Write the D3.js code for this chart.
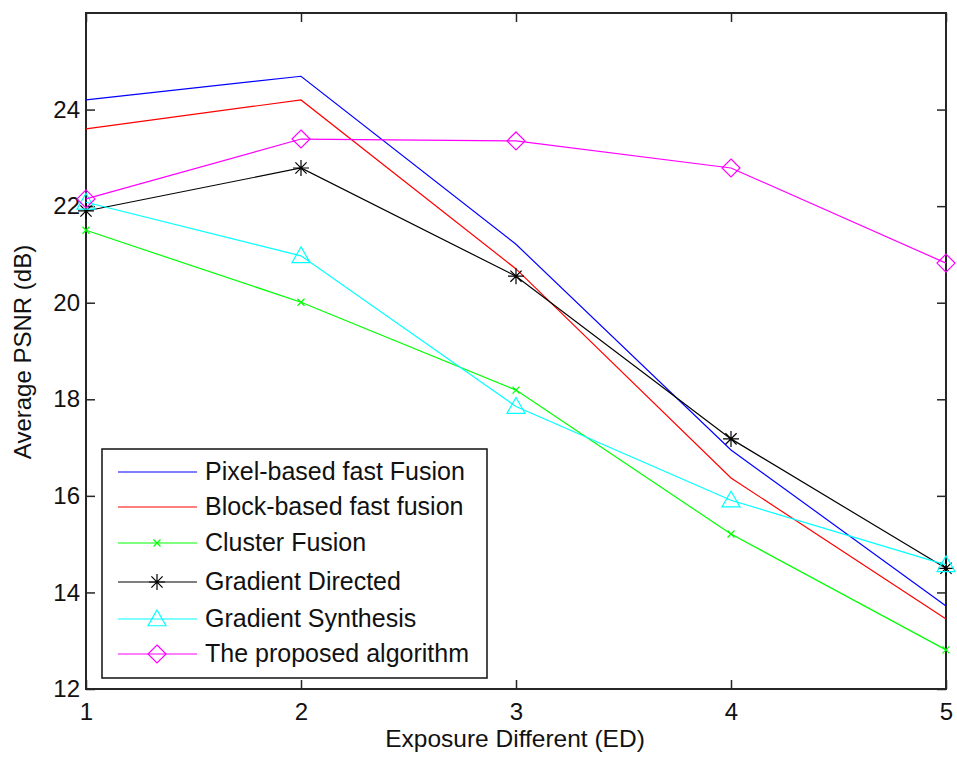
<!DOCTYPE html>
<html><head><meta charset="utf-8">
<script src="https://cdn.jsdelivr.net/npm/d3@7"></script>
<style>body{margin:0;background:#fff}svg{display:block}text{font-family:"Liberation Sans",Arial,sans-serif}</style>
</head><body><svg id="c" width="957" height="758"></svg>
<script>
const xValues = [1, 2, 3, 4, 5];
const xTicks = [1, 2, 3, 4, 5];
const yTicks = [12, 14, 16, 18, 20, 22, 24];
const seriesNames = ["Pixel-based fast Fusion","Block-based fast fusion","Cluster Fusion","Gradient Directed","Gradient Synthesis","The proposed algorithm"];
const pixelBased = [24.20, 24.69, 21.21, 16.95, 13.72];
const blockBased = [23.60, 24.20, 20.70, 16.37, 13.45];
const clusterFusion = [21.50, 20.01, 18.19, 15.21, 12.81];
const gradientDirected = [21.90, 22.79, 20.55, 17.18, 14.50];
const gradientSynthesis = [22.08, 20.97, 17.85, 15.91, 14.57];
const proposed = [22.15, 23.39, 23.35, 22.79, 20.82];
const colors = ["#0000ff","#ff0000","#00ff00","#000000","#00ffff","#ff00ff"];
const markers = ["none","none","x","star","triangle","diamond"];
const allSeries = [pixelBased, blockBased, clusterFusion, gradientDirected, gradientSynthesis, proposed];

const svg = d3.select("#c");
const L=86, R=946, T=13, B=689;
const x = d3.scaleLinear().domain([1,5]).range([L,R]);
const y = d3.scaleLinear().domain([12,26]).range([B,T]);

function drawMarker(g, type, cx, cy, color){
  if(type==="x"){
    const s=3.5;
    g.append("path").attr("d",`M${cx-s},${cy-s}L${cx+s},${cy+s}M${cx-s},${cy+s}L${cx+s},${cy-s}`).attr("stroke",color).attr("stroke-width",1.2).attr("fill","none");
  } else if(type==="star"){
    const s=8, d=5.6;
    g.append("path").attr("d",`M${cx-s},${cy}L${cx+s},${cy}M${cx},${cy-s}L${cx},${cy+s}M${cx-d},${cy-d}L${cx+d},${cy+d}M${cx-d},${cy+d}L${cx+d},${cy-d}`).attr("stroke",color).attr("stroke-width",1.2).attr("fill","none");
  } else if(type==="triangle"){
    const s=9;
    g.append("path").attr("d",`M${cx},${cy-s}L${cx+s},${cy+s*0.75}L${cx-s},${cy+s*0.75}Z`).attr("stroke",color).attr("stroke-width",1.2).attr("fill","none");
  } else if(type==="diamond"){
    const s=9;
    g.append("path").attr("d",`M${cx},${cy-s}L${cx+s},${cy}L${cx},${cy+s}L${cx-s},${cy}Z`).attr("stroke",color).attr("stroke-width",1.2).attr("fill","none");
  }
}

// axes frame
const frame = svg.append("g");
frame.append("rect").attr("x",L).attr("y",T).attr("width",R-L).attr("height",B-T).attr("fill","none").attr("stroke","#262626").attr("stroke-width",2);

// ticks via d3 axes (inward)
const axB = d3.axisBottom(x).tickValues(xTicks).tickSize(-9).tickPadding(14).tickFormat(d3.format("d"));
const axT = d3.axisTop(x).tickValues(xTicks).tickSize(-9).tickFormat("");
const axL = d3.axisLeft(y).tickValues(yTicks).tickSize(-9).tickPadding(6).tickFormat(d3.format("d"));
const axR = d3.axisRight(y).tickValues(yTicks).tickSize(-9).tickFormat("");
function styleAxis(g){ g.select(".domain").remove(); g.selectAll(".tick line").attr("stroke","#262626").attr("stroke-width",1.5); g.selectAll("text").attr("font-size",24).attr("fill","#111").attr("font-family","Liberation Sans, Arial, sans-serif"); }
svg.append("g").attr("transform",`translate(0,${B})`).call(axB).call(styleAxis);
svg.append("g").attr("transform",`translate(0,${T})`).call(axT).call(styleAxis);
svg.append("g").attr("transform",`translate(${L},0)`).call(axL).call(styleAxis);
svg.append("g").attr("transform",`translate(${R},0)`).call(axR).call(styleAxis);

// series
const line = d3.line().x((d,i)=>x(xValues[i])).y(d=>y(d));
allSeries.forEach((s,k)=>{
  const g = svg.append("g");
  g.append("path").datum(s).attr("d",line).attr("fill","none").attr("stroke",colors[k]).attr("stroke-width",1.2);
  s.forEach((v,i)=>drawMarker(g, markers[k], x(xValues[i]), y(v), colors[k]));
});

// axis titles
svg.append("text").attr("x",515).attr("y",747).attr("text-anchor","middle").attr("font-size",24.5).attr("fill","#111").text("Exposure Different (ED)");
svg.append("text").attr("transform",`translate(31,352) rotate(-90)`).attr("text-anchor","middle").attr("font-size",24).attr("fill","#111").text("Average PSNR (dB)");

// legend
const lg = svg.append("g");
lg.append("rect").attr("x",102).attr("y",449).attr("width",385).attr("height",229).attr("fill","#fff").attr("stroke","#111").attr("stroke-width",1.5);
const rowY = [472, 507, 543, 582, 619, 654];
seriesNames.forEach((n,k)=>{
  const yy=rowY[k];
  lg.append("line").attr("x1",118).attr("x2",197).attr("y1",yy).attr("y2",yy).attr("stroke",colors[k]).attr("stroke-width",1.2);
  drawMarker(lg, markers[k], 157, yy, colors[k]);
  lg.append("text").attr("x",205).attr("y",yy+8).attr("font-size",25).attr("fill","#111").text(n);
});
</script></body></html>
